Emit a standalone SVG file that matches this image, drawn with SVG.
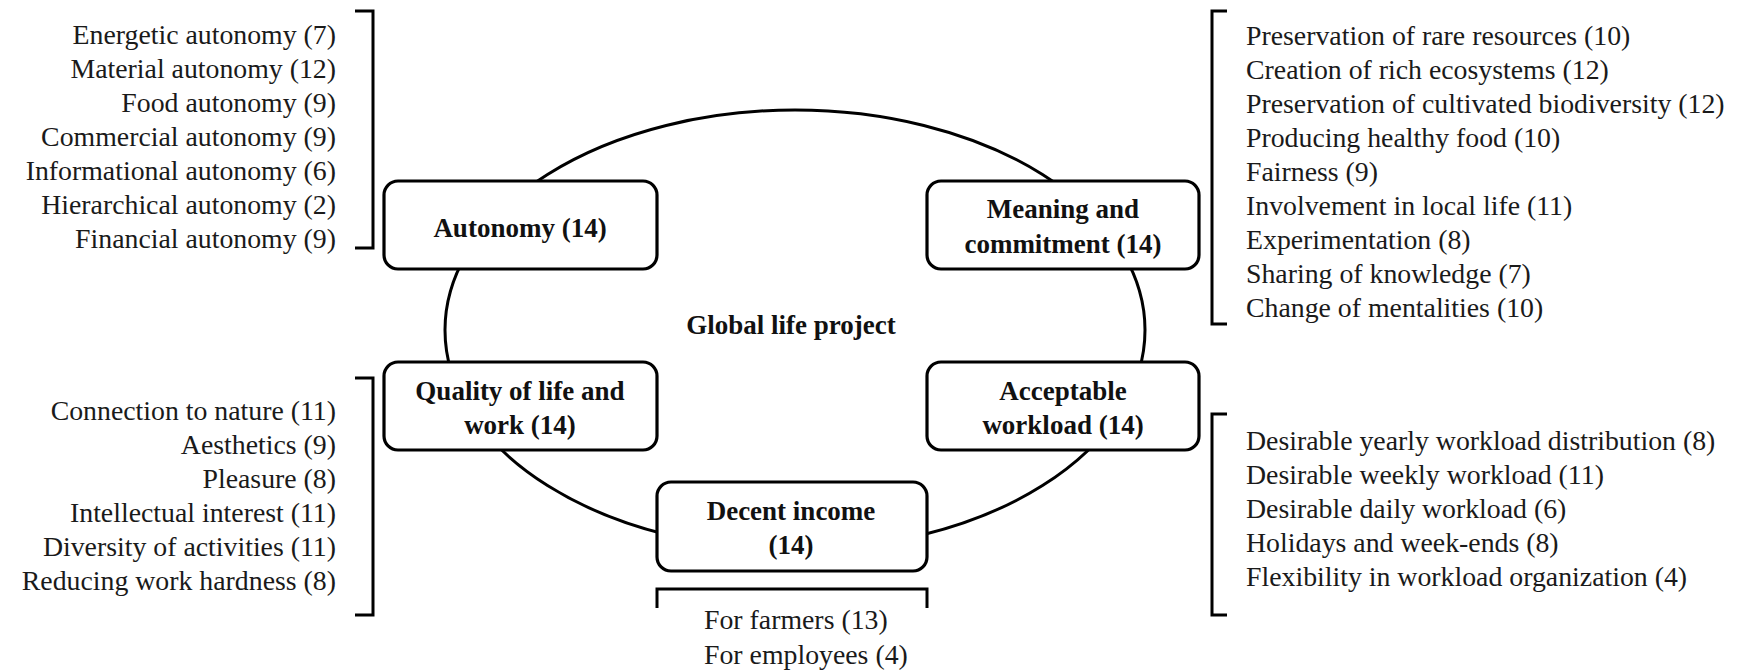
<svg xmlns="http://www.w3.org/2000/svg" width="1746" height="672" viewBox="0 0 1746 672">
<style>
.t{font-family:"Liberation Serif","Times New Roman",serif;font-size:27.8px;fill:#1a1a1a}
.e{text-anchor:end}
.b{font-family:"Liberation Serif","Times New Roman",serif;font-size:27px;font-weight:bold;fill:#111;text-anchor:middle}
.box{fill:#fff;stroke:#000;stroke-width:3.2}
.br{fill:none;stroke:#000;stroke-width:3}
</style>
<rect width="1746" height="672" fill="#fff"/>
<g id="connectors">
<ellipse cx="795" cy="330" rx="350" ry="220" fill="none" stroke="#000" stroke-width="3"/>
<path class="br" d="M355,11 H373 V248 H355"/>
<path class="br" d="M355,378 H373 V615 H355"/>
<path class="br" d="M1227,11 H1212 V324 H1227"/>
<path class="br" d="M1227,414 H1212 V615 H1227"/>
<path class="br" d="M657,608 V589 H927 V608"/>
</g>
<g id="center"><text class="b" x="791" y="334">Global life project</text></g>
<g id="autonomy">
<rect class="box" x="384" y="181" width="273" height="88" rx="14"/>
<text class="b" x="520" y="237">Autonomy (14)</text>
</g>
<g id="meaning">
<rect class="box" x="927" y="181" width="272" height="88" rx="14"/>
<text class="b" x="1063" y="218">Meaning and</text>
<text class="b" x="1063" y="253">commitment (14)</text>
</g>
<g id="quality">
<rect class="box" x="384" y="362" width="273" height="88" rx="14"/>
<text class="b" x="520" y="400">Quality of life and</text>
<text class="b" x="520" y="434">work (14)</text>
</g>
<g id="workload">
<rect class="box" x="927" y="362" width="272" height="88" rx="14"/>
<text class="b" x="1063" y="400">Acceptable</text>
<text class="b" x="1063" y="434">workload (14)</text>
</g>
<g id="income">
<rect class="box" x="657" y="482" width="270" height="89" rx="14"/>
<text class="b" x="791" y="520">Decent income</text>
<text class="b" x="791" y="554">(14)</text>
</g>
<g id="autonomy-list">
<text class="t e" x="336" y="44">Energetic autonomy (7)</text>
<text class="t e" x="336" y="78">Material autonomy (12)</text>
<text class="t e" x="336" y="112">Food autonomy (9)</text>
<text class="t e" x="336" y="146">Commercial autonomy (9)</text>
<text class="t e" x="336" y="180">Informational autonomy (6)</text>
<text class="t e" x="336" y="214">Hierarchical autonomy (2)</text>
<text class="t e" x="336" y="248">Financial autonomy (9)</text>
</g>
<g id="quality-list">
<text class="t e" x="336" y="420">Connection to nature (11)</text>
<text class="t e" x="336" y="454">Aesthetics (9)</text>
<text class="t e" x="336" y="488">Pleasure (8)</text>
<text class="t e" x="336" y="522">Intellectual interest (11)</text>
<text class="t e" x="336" y="556">Diversity of activities (11)</text>
<text class="t e" x="336" y="590">Reducing work hardness (8)</text>
</g>
<g id="meaning-list">
<text class="t" x="1246" y="45">Preservation of rare resources (10)</text>
<text class="t" x="1246" y="79">Creation of rich ecosystems (12)</text>
<text class="t" x="1246" y="113">Preservation of cultivated biodiversity (12)</text>
<text class="t" x="1246" y="147">Producing healthy food (10)</text>
<text class="t" x="1246" y="181">Fairness (9)</text>
<text class="t" x="1246" y="215">Involvement in local life (11)</text>
<text class="t" x="1246" y="249">Experimentation (8)</text>
<text class="t" x="1246" y="283">Sharing of knowledge (7)</text>
<text class="t" x="1246" y="317">Change of mentalities (10)</text>
</g>
<g id="workload-list">
<text class="t" x="1246" y="450">Desirable yearly workload distribution (8)</text>
<text class="t" x="1246" y="484">Desirable weekly workload (11)</text>
<text class="t" x="1246" y="518">Desirable daily workload (6)</text>
<text class="t" x="1246" y="552">Holidays and week-ends (8)</text>
<text class="t" x="1246" y="586">Flexibility in workload organization (4)</text>
</g>
<g id="income-list">
<text class="t" x="704" y="629">For farmers (13)</text>
<text class="t" x="704" y="664">For employees (4)</text>
</g>
</svg>
